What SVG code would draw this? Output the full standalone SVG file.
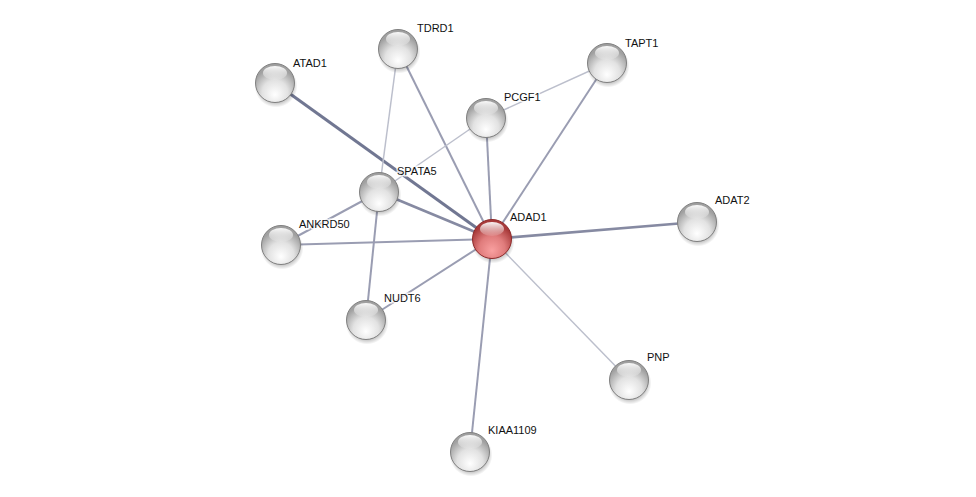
<svg xmlns="http://www.w3.org/2000/svg" width="976" height="497" viewBox="0 0 976 497">
<defs>
<radialGradient id="gw" cx="50%" cy="72%" r="60%" fx="50%" fy="80%">
<stop offset="0" stop-color="#ffffff"/>
<stop offset="0.55" stop-color="#e2e2e2"/>
<stop offset="1" stop-color="#a0a0a0"/>
</radialGradient>
<radialGradient id="gr" cx="50%" cy="72%" r="60%" fx="50%" fy="80%">
<stop offset="0" stop-color="#f9a0a0"/>
<stop offset="0.55" stop-color="#e07c7c"/>
<stop offset="1" stop-color="#a83a3a"/>
</radialGradient>
<linearGradient id="hl" x1="0" y1="0" x2="0" y2="1">
<stop offset="0" stop-color="#ffffff" stop-opacity="0.95"/>
<stop offset="1" stop-color="#ffffff" stop-opacity="0.1"/>
</linearGradient>
<radialGradient id="sh" cx="50%" cy="50%" r="50%">
<stop offset="0.7" stop-color="#000" stop-opacity="0.3"/>
<stop offset="1" stop-color="#000" stop-opacity="0"/>
</radialGradient>
<g id="ball">
<circle cx="1" cy="3" r="21.5" fill="url(#sh)"/>
<circle r="19.5" fill="url(#gw)" stroke="#808080" stroke-width="1"/>
<ellipse cx="0" cy="-10" rx="12" ry="7" fill="url(#hl)"/>
</g>
<g id="rball">
<circle cx="1" cy="3" r="21.5" fill="url(#sh)"/>
<circle r="19.5" fill="url(#gr)" stroke="#8e2a2a" stroke-width="1"/>
<ellipse cx="0" cy="-10" rx="12" ry="7" fill="url(#hl)"/>
</g>
</defs>
<style>
.e{stroke:#9a9db2;stroke-width:2;fill:none}
.el{stroke:#bcbfcc;stroke-width:1.5;fill:none}
.et{stroke:#717792;stroke-width:3;fill:none}
.em{stroke:#868aa2;stroke-width:2.6;fill:none}
text{font-family:"Liberation Sans",Arial,sans-serif;font-size:11px;fill:#111;stroke:#fff;stroke-width:3;stroke-opacity:0.8;paint-order:stroke}
</style>
<rect width="976" height="497" fill="#fff"/>
<g id="connectors">
<line class="et" x1="275" y1="83" x2="492" y2="239"/>
<line class="e" x1="398" y1="49" x2="492" y2="239"/>
<line class="e" x1="607" y1="63" x2="492" y2="239"/>
<line class="e" x1="486" y1="118" x2="492" y2="239"/>
<line class="em" x1="379" y1="192" x2="492" y2="239"/>
<line class="e" x1="281" y1="245" x2="492" y2="239"/>
<line class="em" x1="697" y1="222" x2="492" y2="239"/>
<line class="e" x1="366" y1="320" x2="492" y2="239"/>
<line class="el" x1="629" y1="380" x2="492" y2="239"/>
<line class="e" x1="470" y1="452" x2="492" y2="239"/>
<line class="el" x1="398" y1="49" x2="379" y2="192"/>
<line class="el" x1="486" y1="118" x2="607" y2="63"/>
<line class="el" x1="486" y1="118" x2="379" y2="192"/>
<line class="e" x1="281" y1="245" x2="379" y2="192"/>
<line class="e" x1="379" y1="192" x2="366" y2="320"/>
</g>
<g id="TDRD1"><use href="#ball" x="398" y="49"/><text x="417" y="32">TDRD1</text></g>
<g id="ATAD1"><use href="#ball" x="275" y="83"/><text x="293" y="67">ATAD1</text></g>
<g id="TAPT1"><use href="#ball" x="607" y="63"/><text x="625" y="47">TAPT1</text></g>
<g id="PCGF1"><use href="#ball" x="486" y="118"/><text x="504" y="101">PCGF1</text></g>
<g id="SPATA5"><use href="#ball" x="379" y="192"/><text x="397" y="175">SPATA5</text></g>
<g id="ANKRD50"><use href="#ball" x="281" y="245"/><text x="299" y="228">ANKRD50</text></g>
<g id="NUDT6"><use href="#ball" x="366" y="320"/><text x="384" y="302">NUDT6</text></g>
<g id="ADAT2"><use href="#ball" x="697" y="222"/><text x="715" y="204">ADAT2</text></g>
<g id="PNP"><use href="#ball" x="629" y="380"/><text x="647" y="361">PNP</text></g>
<g id="KIAA1109"><use href="#ball" x="470" y="452"/><text x="488" y="434">KIAA1109</text></g>
<g id="ADAD1"><use href="#rball" x="492" y="239"/><text x="510" y="221">ADAD1</text></g>
</svg>
